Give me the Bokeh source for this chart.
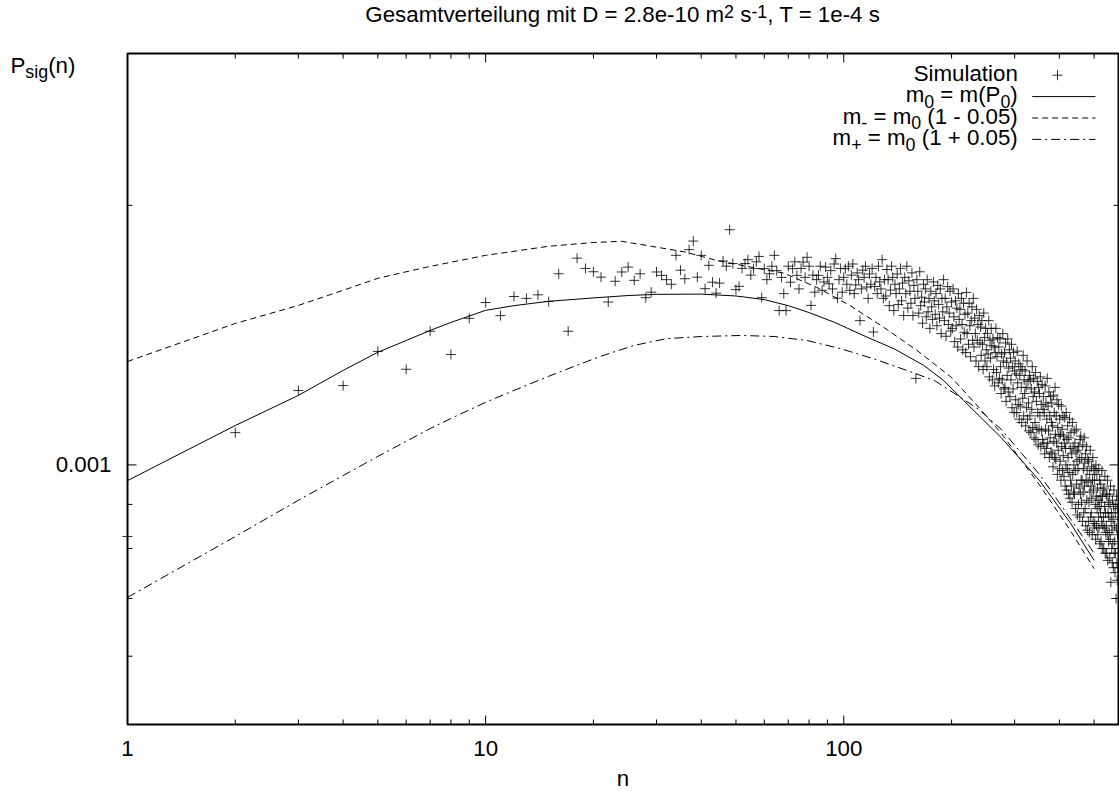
from math import log10, pi
from bokeh.plotting import figure
from bokeh.models import Range1d, Label
from bokeh.core.properties import value
from bokeh.embed import file_html
from bokeh.resources import INLINE

# ---------------- data ----------------
n_sim = list(range(1, 586))
p_sim_1e6 = [
    826, 1090, 1220, 1236, 1354, 1291, 1429, 1343, 1479, 1543,
    1490, 1568, 1560, 1575, 1547, 1666, 1429, 1737, 1690, 1675,
    1651, 1545, 1633, 1674, 1696, 1637, 1666, 1563, 1586, 1674,
    1659, 1640, 1620, 1750, 1682, 1644, 1777, 1818, 1651, 1750,
    1601, 1704, 1629, 1582, 1625, 1724, 1700, 1874, 1712, 1597,
    1611, 1690, 1712, 1730, 1660, 1689, 1720, 1745, 1563, 1689,
    1640, 1666, 1700, 1750, 1680, 1510, 1650, 1580, 1510, 1700,
    1629, 1689, 1720, 1659, 1600, 1690, 1719, 1650, 1741, 1700,
    1531, 1660, 1586, 1640, 1659, 1700, 1594, 1630, 1696, 1650,
    1622, 1680, 1600, 1710, 1735, 1561, 1640, 1690, 1586, 1650,
    1689, 1620, 1700, 1594, 1660, 1710, 1580, 1617, 1670, 1640,
    1470, 1600, 1682, 1650, 1700, 1608, 1560, 1665, 1620, 1690,
    1426, 1610, 1650, 1580, 1700, 1630, 1600, 1730, 1560, 1640,
    1570, 1685, 1640, 1530, 1595, 1700, 1650, 1510, 1620, 1580,
    1665, 1535, 1600, 1690, 1550, 1625, 1490, 1650, 1580, 1700,
    1520, 1635, 1590, 1540, 1670, 1490, 1615, 1560, 1260, 1640,
    1590, 1500, 1675, 1530, 1565, 1460, 1620, 1545, 1600, 1485,
    1640, 1505, 1560, 1440, 1590, 1525, 1475, 1630, 1550, 1495,
    1580, 1450, 1615, 1535, 1480, 1600, 1420, 1560, 1505, 1640,
    1470, 1560, 1410, 1525, 1610, 1455, 1500, 1590, 1430, 1545,
    1440, 1600, 1485, 1390, 1550, 1450, 1520, 1370, 1580, 1475,
    1515, 1400, 1560, 1455, 1360, 1540, 1425, 1495, 1350, 1585,
    1420, 1500, 1380, 1540, 1450, 1335, 1470, 1525, 1395, 1560,
    1370, 1480, 1420, 1320, 1515, 1395, 1455, 1300, 1490, 1385,
    1445, 1340, 1470, 1380, 1290, 1500, 1405, 1320, 1440, 1360,
    1300, 1420, 1345, 1470, 1265, 1395, 1330, 1440, 1375, 1255,
    1400, 1290, 1370, 1235, 1350, 1440, 1280, 1335, 1405, 1245,
    1370, 1260, 1400, 1300, 1210, 1345, 1255, 1420, 1320, 1225,
    1350, 1230, 1385, 1185, 1315, 1270, 1400, 1215, 1295, 1360,
    1200, 1330, 1255, 1380, 1165, 1300, 1225, 1350, 1150, 1285,
    1320, 1190, 1275, 1150, 1355, 1245, 1175, 1310, 1130, 1270,
    1170, 1300, 1230, 1120, 1290, 1195, 1340, 1140, 1255, 1210,
    1285, 1110, 1230, 1165, 1320, 1130, 1250, 1180, 1095, 1270,
    1140, 1255, 1090, 1225, 1160, 1300, 1105, 1200, 1260, 1075,
    1215, 1120, 1280, 1070, 1185, 1100, 1250, 1150, 1055, 1230,
    1100, 1210, 1140, 1265, 1050, 1175, 1095, 1240, 1070, 1160,
    1200, 1060, 1150, 1030, 1235, 1100, 1180, 1045, 1130, 1260,
    1060, 1170, 1095, 1215, 1020, 1140, 1075, 1200, 1035, 1120,
    1180, 1030, 1110, 995, 1205, 1065, 1150, 1020, 1230, 1085,
    1015, 1140, 1060, 1190, 975, 1105, 1040, 1175, 1080, 990,
    1130, 1010, 1085, 960, 1170, 1050, 1100, 985, 1140, 1025,
    1080, 970, 1060, 1135, 945, 1045, 1000, 1150, 935, 1070,
    990, 1110, 1020, 925, 1075, 980, 1130, 915, 1045, 960,
    1090, 945, 1030, 905, 1120, 975, 1050, 930, 1000, 1095,
    925, 1060, 985, 890, 1035, 1100, 950, 1010, 875, 1040,
    990, 900, 1050, 940, 1015, 870, 1070, 925, 1080, 960,
    905, 1020, 960, 860, 1055, 930, 990, 880, 1075, 945,
    1005, 890, 1030, 850, 960, 1050, 910, 985, 840, 1015,
    955, 860, 1010, 905, 835, 975, 930, 1040, 870, 945,
    880, 995, 915, 830, 960, 1020, 860, 935, 990, 845,
    960, 855, 985, 900, 820, 1000, 920, 850, 975, 890,
    940, 830, 910, 870, 990, 845, 895, 960, 810, 920,
    880, 950, 815, 905, 860, 985, 800, 920, 850, 935,
    870, 800, 940, 845, 895, 970, 790, 880, 835, 925,
    850, 790, 920, 830, 960, 775, 880, 905, 815, 870,
    835, 925, 780, 900, 820, 945, 731, 860, 880, 800,
    840, 770, 910, 810, 865, 760, 895, 935, 790, 850,
    815, 750, 880, 790, 900, 700, 845, 920, 770, 735,
    830, 890, 760, 870, 800,
]
p_sim = [v * 1e-6 for v in p_sim_1e6]

# m0 = m(P0)  (solid)
n_m0 = [1, 2, 3, 4, 5, 6, 7, 8, 10, 12, 15, 20, 25, 30, 40, 50, 60, 70, 80,
        94, 116, 138, 167, 190, 216, 275, 352, 428, 500]
p_m0_1e6 = [959, 1111, 1204, 1287, 1351, 1394, 1432, 1463, 1511, 1530, 1548,
            1562, 1572, 1577, 1578, 1570, 1555, 1530, 1502, 1464, 1407, 1364,
            1305, 1253, 1188, 1076, 959, 858, 775]
# m- = m0 (1 - 0.05)  (dashed)
n_mm = [1, 2, 3, 4, 5, 6, 7, 8, 10, 15, 20, 24, 29, 36, 44, 55, 68, 84, 104,
        129, 160, 199, 231, 275, 352, 428, 500]
p_mm_1e6 = [1318, 1459, 1531, 1594, 1646, 1675, 1699, 1718, 1750, 1793, 1811,
            1817, 1793, 1766, 1727, 1696, 1669, 1607, 1531, 1445, 1358, 1265,
            1183, 1089, 948, 841, 758]
# m+ = m0 (1 + 0.05)  (dash-dot)
n_mp = [1, 2, 3, 4, 5, 6, 7, 8, 10, 12, 15, 18, 21, 26, 32, 40, 52, 64, 79,
        98, 121, 150, 179, 211, 240, 275, 352, 428, 500]
p_mp_1e6 = [702, 826, 910, 972, 1023, 1065, 1102, 1132, 1182, 1220, 1267, 1305,
            1337, 1376, 1401, 1409, 1413, 1409, 1394, 1364, 1328, 1287, 1253,
            1199, 1157, 1100, 975, 868, 790]

p_m0 = [v * 1e-6 for v in p_m0_1e6]
p_mm = [v * 1e-6 for v in p_mm_1e6]
p_mp = [v * 1e-6 for v in p_mp_1e6]

x_major = [1, 10, 100]
x_major_text = ["1", "10", "100"]
x_minor = [2, 3, 4, 5, 6, 7, 8, 9, 20, 30, 40, 50, 60, 70, 80, 90, 200, 300, 400, 500]
y_major = [0.001]
y_major_text = ["0.001"]
y_minor = [0.0006, 0.0007, 0.0008, 0.0009, 0.002, 0.003]

X_MIN, X_MAX = 1, 585
Y_MIN, Y_MAX = 0.0005, 0.003

# ---------------- layout ----------------
W, H = 1119, 791
FL, FR, FT, FB = 127, 1118, 53, 724     # plot box in canvas pixels
F = 22.3          # main font size (px)
S = 0.8 * F       # sub/superscript size
FONT = "Liberation Sans"
MID = 0.3465      # em fraction between baseline and middle of the text box

DX = (FR - FL) / (log10(X_MAX) - log10(X_MIN))
DY = (FB - FT) / (log10(Y_MAX) - log10(Y_MIN))
x_start = 10 ** (log10(X_MIN) - FL / DX)
x_end = 10 ** (log10(X_MAX) + (W - FR) / DX)
y_start = 10 ** (log10(Y_MIN) - (H - FB) / DY)
y_end = 10 ** (log10(Y_MAX) + FT / DY)

p = figure(width=W, height=H, x_axis_type="log", y_axis_type="log",
           x_range=Range1d(x_start, x_end), y_range=Range1d(y_start, y_end),
           x_axis_location=None, y_axis_location=None,
           output_backend="svg", toolbar_location=None,
           min_border_left=0, min_border_right=0, min_border_top=0,
           min_border_bottom=0)
p.min_border = 0
p.grid.visible = False
p.outline_line_color = None
p.background_fill_color = "white"
p.border_fill_color = "white"

# ---------------- plot box, ticks, tick labels ----------------
p.quad(left=[X_MIN], right=[X_MAX], bottom=[Y_MIN], top=[Y_MAX],
       fill_color=None, line_color="black", line_width=2)

def ticks(xs, ys, length, angle):
    p.ray(x=xs, y=ys, length=length, length_units="screen", angle=angle,
          line_color="black", line_width=1)

for tv, ln in ((x_major, 9), (x_minor, 5)):
    ticks(tv, [Y_MIN] * len(tv), ln, pi / 2)
    ticks(tv, [Y_MAX] * len(tv), ln, -pi / 2)
for tv, ln in ((y_major, 9), (y_minor, 5)):
    ticks([X_MIN] * len(tv), tv, ln, 0)
    ticks([X_MAX] * len(tv), tv, ln, pi)

p.text(x=x_major, y=[Y_MIN] * len(x_major), text=x_major_text,
       text_font=value(FONT), text_font_size=value(f"{F}px"), text_color="black",
       text_align="center", text_baseline="middle", y_offset=24)
p.text(x=[X_MIN] * len(y_major), y=y_major, text=y_major_text,
       text_font=value(FONT), text_font_size=value(f"{F}px"), text_color="black",
       text_align="right", text_baseline="middle", x_offset=-16)

# ---------------- curves and points ----------------
p.line(n_m0, p_m0, line_color="black", line_width=1)
p.line(n_mm, p_mm, line_color="black", line_width=1, line_dash="6 4")
p.line(n_mp, p_mp, line_color="black", line_width=1, line_dash="9 4 2 4")
p.scatter(n_sim, p_sim, marker="cross", size=10, line_color="black",
          line_width=1, line_alpha=0.8)

# ---------------- text helpers ----------------
CW = {' ': 278, '(': 333, ')': 333, '+': 584, ',': 278, '-': 333, '.': 278,
      '=': 584, 'D': 722, 'G': 778, 'P': 667, 'S': 667, 'T': 611, 'a': 556,
      'e': 556, 'g': 556, 'i': 222, 'l': 222, 'm': 833, 'n': 556, 'o': 556,
      'r': 333, 's': 500, 't': 278, 'u': 556, 'v': 500}

def tw(s, size):
    return sum(CW.get(c, 556) for c in s) / 1000.0 * size

def put(text, cx, base, size, align="left"):
    # cx: canvas x, base: canvas y of the text baseline
    mid = base - MID * size
    p.add_layout(Label(x=cx, y=H - mid, x_units="screen", y_units="screen",
                       text=text, text_font=FONT, text_font_size=f"{size}px",
                       text_color="black", text_align=align,
                       text_baseline="middle"))

def put_pieces(pieces, x0, base):
    x = x0
    for txt, size, dy in pieces:
        lead = len(txt) - len(txt.lstrip(" "))
        put(txt.strip(" "), x + tw(" " * lead, size), base + dy, size)
        x += tw(txt, size)

def width_pieces(pieces):
    return sum(tw(t, s) for t, s, _ in pieces)

SUP, SUB = -5, 5

# title
title_pieces = [("Gesamtverteilung mit D = 2.8e-10 m", F, 0), ("2", S, SUP),
                (" s", F, 0), ("-1", S, SUP), (", T = 1e-4 s", F, 0)]
put_pieces(title_pieces, (FL + FR) / 2 - width_pieces(title_pieces) / 2, 22)

# y axis title
put_pieces([("P", F, 0), ("sig", S, 4.5), ("(n)", F, 0)], 10, 72.7)

# x axis title
put("n", (FL + FR) / 2, 786, F, align="center")

# legend
legend_rows = [
    [("Simulation", F, 0)],
    [("m", F, 0), ("0", S, SUB), (" = m(P", F, 0), ("0", S, SUB), (")", F, 0)],
    [("m", F, 0), ("-", S, SUB), (" = m", F, 0), ("0", S, SUB), (" (1 - 0.05)", F, 0)],
    [("m", F, 0), ("+", S, SUB), (" = m", F, 0), ("0", S, SUB), (" (1 + 0.05)", F, 0)],
]
L_RIGHT, L_BASE0, L_STEP = 1017.3, 80.7, 21.4
for i, row in enumerate(legend_rows):
    put_pieces(row, L_RIGHT - width_pieces(row), L_BASE0 + i * L_STEP)

def to_x(cx):
    return 10 ** (log10(x_start) + cx / DX)

def to_y(cy):
    return 10 ** (log10(y_start) + (H - cy) / DY)

s0, s1, sm = 1031.7, 1095.0, 1057.0
ys = [L_BASE0 + i * L_STEP - 6 for i in range(4)]
p.scatter([to_x(sm)], [to_y(ys[0])], marker="cross", size=10,
          line_color="black", line_width=1, line_alpha=0.8)
p.line([to_x(s0), to_x(s1)], [to_y(ys[1])] * 2, line_color="black", line_width=1)
p.line([to_x(s0), to_x(s1)], [to_y(ys[2])] * 2, line_color="black", line_width=1,
       line_dash="6 4")
p.line([to_x(s0), to_x(s1)], [to_y(ys[3])] * 2, line_color="black", line_width=1,
       line_dash="9 4 2 4")

open("out.html", "w").write(file_html(p, INLINE))
